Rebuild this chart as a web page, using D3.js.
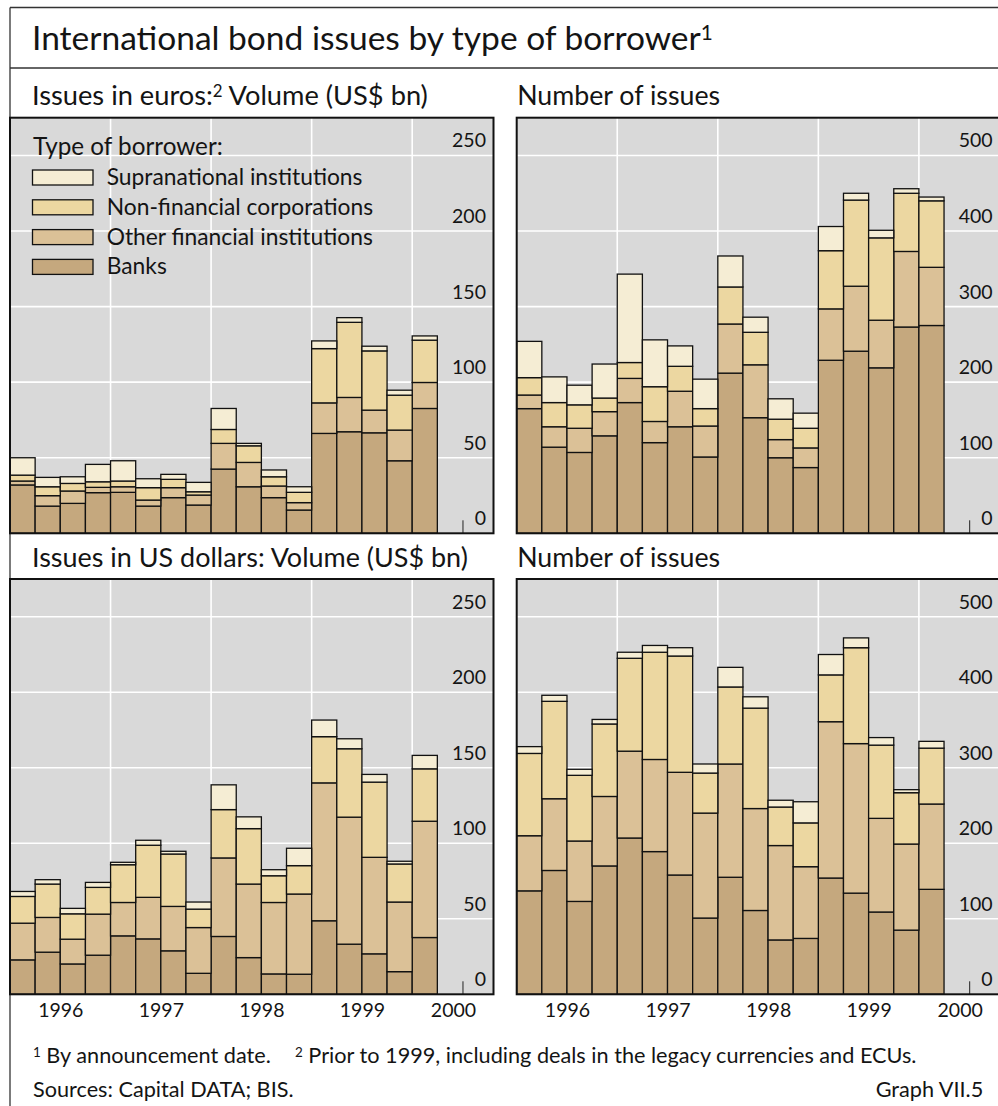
<!DOCTYPE html>
<html><head><meta charset="utf-8">
<script src="https://cdn.jsdelivr.net/npm/d3@7"></script>
<style>
body{margin:0;background:#fff}
svg{display:block}
text{font-family:Lato,"Open Sans",sans-serif;fill:#141414}
</style>
</head><body>
<svg id="chart" width="998" height="1106"></svg>
<script>
// ---------- data ----------
const quarters = ["1996Q1","1996Q2","1996Q3","1996Q4","1997Q1","1997Q2","1997Q3","1997Q4",
  "1998Q1","1998Q2","1998Q3","1998Q4","1999Q1","1999Q2","1999Q3","1999Q4","2000Q1"];
const seriesKeys = ["banks","other","nonfin","supra"];
const seriesNames = ["Banks","Other financial institutions","Non-financial corporations","Supranational institutions"];
const yearLabels = ["1996","1997","1998","1999","2000"];
const volumeTicks = [0,50,100,150,200,250];
const numberTicks = [0,100,200,300,400,500];

// Issues in euros: volume (US$ bn)
const eurVolBanks  = [32,18,19.8,26.9,27.1,18,23.6,18.7,42.5,30.8,23.6,15.4,66.1,67.2,66.5,48,82.6];
const eurVolOther  = [2.6,6.9,8.2,3.5,3.7,4,6.6,6.6,17,16.1,7.7,4.9,20.2,22.7,15,20.3,17.2];
const eurVolNonfin = [3.9,5.9,5,3.7,3.8,8.2,5.5,2.2,9.2,11,6.1,6.8,35.9,49.7,39.2,23.1,28];
const eurVolSupra  = [11.5,6.2,4.4,11.5,13.4,5.9,3.3,6.2,13.9,1.6,4.5,3.7,5.1,3.1,3.1,3.3,2.8];
// Issues in euros: number of issues
const eurNumBanks  = [165,114,107,129,173,120,141,101,212,153,100,87,229,241,219,273,275];
const eurNumOther  = [18,27,32,32,32,28,47,41,65,70,24,26,68,86,63,100,77];
const eurNumNonfin = [23,32,31,18,21,46,33,23,49,43,27,26,77,114,109,77,88];
const eurNumSupra  = [48,34,26,45,117,62,27,39,41,20,27,20,32,9,10,6,5];
// Issues in US dollars: volume (US$ bn)
const usdVolBanks  = [22.8,27.9,20.1,25.9,38.7,36.7,28.8,13.9,38.3,24.3,13.5,13.3,48.7,33.2,26.8,15,37.6];
const usdVolOther  = [24.3,23,16.4,27.2,22.1,27.5,29.4,30.3,52,48.7,47.3,53.1,91.3,84.1,63.9,46.1,77];
const usdVolNonfin = [17.7,22.1,16.8,17.7,25,34.5,34.7,12.2,32,36.7,17.7,18.8,30.6,45.3,49.8,25.2,34.7];
const usdVolSupra  = [3.3,2.9,3.6,3.3,1.6,3.3,1.8,4.7,16.4,7.8,4,11.5,11,6.6,5.1,1.8,8.9];
// Issues in US dollars: number of issues
const usdNumBanks  = [137,164,123,170,207,189,158,101,155,111,72,74,154,134,109,85,139];
const usdNumOther  = [73,95,80,92,115,122,136,139,150,135,125,95,207,198,124,114,113];
const usdNumNonfin = [109,129,87,96,123,142,154,53,102,133,51,58,62,127,97,68,74];
const usdNumSupra  = [9,8,8,6,8,9,11,12,26,15,9,28,27,13,10,4,9];

// ---------- styles ----------
const colors = {banks:"#c5a87e", other:"#dbc197", nonfin:"#ecd7a1", supra:"#f5edd4"};
const svg = d3.select("#chart");
svg.append("rect").attr("width",998).attr("height",1106).attr("fill","#fff");

function fitText(t, w){
  const cur = t.node().getComputedTextLength();
  const fs = parseFloat(t.attr("font-size"));
  t.attr("font-size", fs*w/cur);
  return fs*w/cur;
}
// text made of parts; parts flagged sup:true are superscripts
function richText(parent, x, y, fs, parts){
  const t = parent.append("text").attr("x",x).attr("y",y).attr("font-size",fs);
  parts.forEach((p,i)=>{
    const ts = t.append("tspan").text(p.t);
    if (p.sup){
      ts.attr("font-size","62%").attr("dy","-0.46em");
    } else if (i>0 && parts[i-1].sup){
      ts.attr("dy","0.285em");
    }
  });
  return t;
}

// outer frame
const frame = svg.append("g").attr("stroke","#333").attr("stroke-width",1.3);
frame.append("line").attr("x1",10).attr("x2",998).attr("y1",7.5).attr("y2",7.5);
frame.append("line").attr("x1",10).attr("x2",998).attr("y1",68).attr("y2",68);
frame.append("line").attr("x1",10).attr("x2",10).attr("y1",7.5).attr("y2",1106);

// title
const title = richText(svg, 32, 50, 30, [{t:"International bond issues by type of borrower"},{t:"1",sup:true}]);
fitText(title, 681);

function rows(b,o,n,s){ return quarters.map((q,i)=>({q, i, banks:b[i], other:o[i], nonfin:n[i], supra:s[i]})); }

const panels = [
  {sub:[{t:"Issues in euros:"},{t:"2",sup:true},{t:" Volume (US$ bn)"}], subW:396, x0:10, x1:493.5, y0:117.7, y1:533.3, max:275, ticks:volumeTicks,
   data:rows(eurVolBanks,eurVolOther,eurVolNonfin,eurVolSupra), legend:true, years:false},
  {sub:[{t:"Number of issues"}], subW:203, x0:516.7, x1:1000.2, y0:117.7, y1:533.3, max:550, ticks:numberTicks,
   data:rows(eurNumBanks,eurNumOther,eurNumNonfin,eurNumSupra), legend:false, years:false},
  {sub:[{t:"Issues in US dollars: Volume (US$ bn)"}], subW:436, x0:10, x1:493.5, y0:579, y1:994.3, max:275, ticks:volumeTicks,
   data:rows(usdVolBanks,usdVolOther,usdVolNonfin,usdVolSupra), legend:false, years:true},
  {sub:[{t:"Number of issues"}], subW:203, x0:516.7, x1:1000.2, y0:579, y1:994.3, max:550, ticks:numberTicks,
   data:rows(usdNumBanks,usdNumOther,usdNumNonfin,usdNumSupra), legend:false, years:true}
];

const stack = d3.stack().keys(seriesKeys);

// tick font: "250" should be ~34px wide
const probe = svg.append("text").attr("font-size",20).text("250");
const tickFont = fitText(probe, 34);
probe.remove();

panels.forEach(p=>{
  const g = svg.append("g");
  const yearSpan = (p.x1-p.x0)/100.55;
  const x = d3.scaleLinear().domain([1996, 1996+yearSpan]).range([p.x0,p.x1]);
  const y = d3.scaleLinear().domain([0,p.max]).range([p.y1,p.y0]);

  // subtitle
  const st = richText(svg, p.x0>100 ? p.x0+0.5 : 32, p.y0-12.5, 22, p.sub);
  fitText(st, p.subW);

  g.append("rect").attr("x",p.x0).attr("y",p.y0).attr("width",p.x1-p.x0).attr("height",p.y1-p.y0).attr("fill","#d9d9d9");

  // grid
  g.append("g").selectAll("line").data(p.ticks.filter(d=>d>0)).join("line")
    .attr("x1",p.x0).attr("x2",p.x1).attr("y1",d=>y(d)).attr("y2",d=>y(d))
    .attr("stroke","#fff").attr("stroke-width",1.6);
  g.append("g").selectAll("line").data(yearLabels.slice(1).map(Number)).join("line")
    .attr("x1",d=>x(d)).attr("x2",d=>x(d)).attr("y1",p.y0).attr("y2",p.y1)
    .attr("stroke","#fff").attr("stroke-width",1.6);

  // x axis (inward ticks at mid-year)
  const xa = g.append("g").attr("transform",`translate(0,${p.y1})`)
    .call(d3.axisBottom(x).tickValues(yearLabels.map(d=>+d+0.5)).tickSize(-13).tickPadding(9)
      .tickFormat((d,i)=>p.years?yearLabels[i]:""));
  xa.select(".domain").remove();
  xa.selectAll(".tick line").attr("stroke","#222").attr("stroke-width",1);
  xa.selectAll(".tick text").attr("font-size",tickFont).attr("font-family","Lato,sans-serif").attr("fill","#141414")
    .attr("dy","0.72em")
    .attr("dx",(d,i)=> i===yearLabels.length-1 ? -9.5 : 0);

  // bars
  const series = stack(p.data);
  g.append("g").selectAll("g").data(series).join("g")
    .attr("fill",d=>colors[d.key])
    .selectAll("rect").data(d=>d).join("rect")
      .attr("x",d=>x(1996+d.data.i/4))
      .attr("width",d=>x(1996.25)-x(1996))
      .attr("y",d=>y(d[1]))
      .attr("height",d=>y(d[0])-y(d[1]))
      .attr("stroke","#111").attr("stroke-width",1.3);

  // frame
  g.append("rect").attr("x",p.x0).attr("y",p.y0).attr("width",p.x1-p.x0).attr("height",p.y1-p.y0)
    .attr("fill","none").attr("stroke","#111").attr("stroke-width",2);

  // y labels
  const ya = g.append("g").attr("transform",`translate(${p.x1-7.5},0)`)
    .call(d3.axisLeft(y).tickValues(p.ticks).tickSize(0).tickPadding(0));
  ya.select(".domain").remove();
  ya.selectAll(".tick text").attr("font-size",tickFont).attr("font-family","Lato,sans-serif").attr("fill","#141414")
    .attr("dy",-8.5);

  if (p.legend){
    const lg = g.append("g");
    const lt = lg.append("text").attr("x",33).attr("y",155).attr("font-size",20).text("Type of borrower:");
    fitText(lt,190);
    const order = seriesKeys.slice().reverse();
    const items = lg.selectAll("g.item").data(order).join("g").attr("class","item")
      .attr("transform",(d,i)=>`translate(0,${185+i*29.8})`);
    items.append("rect").attr("x",32.5).attr("y",-15).attr("width",60.5).attr("height",15)
      .attr("fill",d=>colors[d]).attr("stroke","#111").attr("stroke-width",1.3);
    const txt = items.append("text").attr("x",106.7).attr("y",0).attr("font-size",20)
      .text(d=>seriesNames[seriesKeys.indexOf(d)]);
    const fs = fitText(d3.select(txt.nodes()[0]),256);
    txt.attr("font-size",fs);
  }
});

// footnotes
const f2 = richText(svg, 295, 1062.7, 18, [{t:"2",sup:true},{t:" Prior to 1999, including deals in the legacy currencies and ECUs."}]);
const ffs = fitText(f2,622);
const f1 = richText(svg, 33, 1062.7, ffs, [{t:"1",sup:true},{t:" By announcement date."}]);
svg.append("text").attr("x",33).attr("y",1096.7).attr("font-size",ffs).text("Sources: Capital DATA; BIS.");
svg.append("text").attr("x",983.3).attr("y",1096.7).attr("font-size",ffs).attr("text-anchor","end").text("Graph VII.5");
</script>
</body></html>
